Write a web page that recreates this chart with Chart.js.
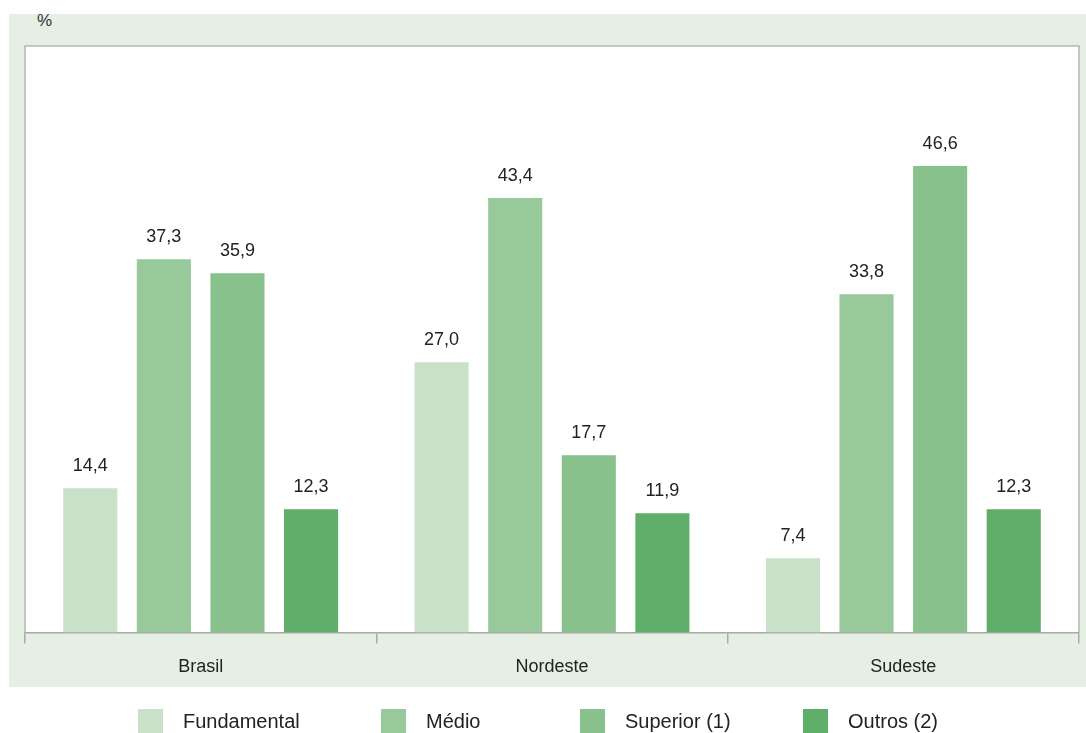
<!DOCTYPE html>
<html lang="pt-BR">
<head>
<meta charset="utf-8">
<title>Escolaridade</title>
<script src="https://cdn.jsdelivr.net/npm/chart.js@4.4.1/dist/chart.umd.min.js"></script>
<style>
    html, body {
        margin: 0;
        padding: 0;
        background: #ffffff;
        font-family: "Liberation Sans", Arial, sans-serif;
    }
    #wrap {
        position: relative;
        width: 1086px;
        height: 733px;
        overflow: hidden;
    }
    #panel {
        position: absolute;
        left: 9px;
        top: 14px;
        width: 1077px;
        height: 673px;
        background: #e6efe3;
    }
    #unit {
        position: absolute;
        left: 37px;
        top: 11px;
        font-size: 17px;
        color: #333333;
    }
    #chart {
        position: absolute;
        left: 0;
        top: 0;
    }
    #legend {
        position: absolute;
        left: 0;
        top: 709px;
        width: 1086px;
        height: 24px;
    }
    .legend-item {
        position: absolute;
        top: 0;
        display: flex;
        align-items: center;
        height: 24px;
        font-size: 20px;
        color: #222222;
    }
    .legend-box {
        width: 25px;
        height: 24px;
        margin-right: 20px;
    }
</style>
</head>
<body>
<div id="wrap">
    <div id="panel"></div>
    <div id="unit">%</div>
    <canvas id="chart" width="1086" height="733"></canvas>
    <div id="legend"></div>
</div>
<script>
const regions = ['Brasil', 'Nordeste', 'Sudeste'];

const fundamental = [14.4, 27.0, 7.4];
const medio = [37.3, 43.4, 33.8];
const superior = [35.9, 17.7, 46.6];
const outros = [12.3, 11.9, 12.3];

const seriesNames = ['Fundamental', 'Médio', 'Superior (1)', 'Outros (2)'];
const seriesColors = ['#c9e1c9', '#98c99a', '#88c18c', '#5fae69'];
const legendLeft = [138, 381, 580, 803];

const seriesValues = [fundamental, medio, superior, outros];

const fontFamily = '"Liberation Sans", Arial, sans-serif';

// white plot box with a thin grey frame
const plotFrame = {
    id: 'plotFrame',
    beforeDraw(chart) {
        const { ctx, chartArea: a } = chart;
        ctx.save();
        ctx.fillStyle = '#ffffff';
        ctx.fillRect(a.left, a.top, a.right - a.left, a.bottom - a.top);
        ctx.strokeStyle = '#b4b8b2';
        ctx.lineWidth = 1.5;
        ctx.beginPath();
        ctx.moveTo(a.left, a.bottom);
        ctx.lineTo(a.left, a.top);
        ctx.lineTo(a.right, a.top);
        ctx.lineTo(a.right, a.bottom);
        ctx.stroke();
        ctx.restore();
    },
};

// value above each bar, decimal comma
const valueLabels = {
    id: 'valueLabels',
    afterDatasetsDraw(chart) {
        const { ctx } = chart;
        ctx.save();
        ctx.font = `18px ${fontFamily}`;
        ctx.fillStyle = '#222222';
        ctx.textAlign = 'center';
        ctx.textBaseline = 'middle';
        chart.data.datasets.forEach((ds, i) => {
            chart.getDatasetMeta(i).data.forEach((bar, j) => {
                const text = ds.data[j].toFixed(1).replace('.', ',');
                ctx.fillText(text, bar.x, bar.y - 22);
            });
        });
        ctx.restore();
    },
};

new Chart(document.getElementById('chart'), {
    type: 'bar',
    data: {
        labels: regions,
        datasets: seriesNames.map((name, i) => ({
            label: name,
            data: seriesValues[i],
            backgroundColor: seriesColors[i],
            borderWidth: 0,
            categoryPercentage: 0.838,
            barPercentage: 0.735,
        })),
    },
    options: {
        responsive: false,
        animation: false,
        layout: {
            padding: { left: 25, right: 7, top: 46, bottom: 42 },
        },
        plugins: {
            legend: { display: false },
            tooltip: { enabled: false },
        },
        scales: {
            x: {
                grid: {
                    offset: true,
                    drawOnChartArea: false,
                    drawTicks: true,
                    tickLength: 11,
                    color: '#a7aaa5',
                    lineWidth: 1.5,
                },
                border: {
                    display: true,
                    color: '#a7aaa5',
                    width: 1.5,
                },
                ticks: {
                    color: '#222222',
                    padding: 13,
                    font: { size: 18, family: fontFamily },
                },
            },
            y: {
                display: false,
                min: 0,
                max: 58.6,
            },
        },
    },
    plugins: [plotFrame, valueLabels],
});

const legend = document.getElementById('legend');
seriesNames.forEach((name, i) => {
    const item = document.createElement('div');
    item.className = 'legend-item';
    item.style.left = `${legendLeft[i]}px`;
    const box = document.createElement('span');
    box.className = 'legend-box';
    box.style.background = seriesColors[i];
    const text = document.createElement('span');
    text.textContent = name;
    item.appendChild(box);
    item.appendChild(text);
    legend.appendChild(item);
});
</script>
</body>
</html>
